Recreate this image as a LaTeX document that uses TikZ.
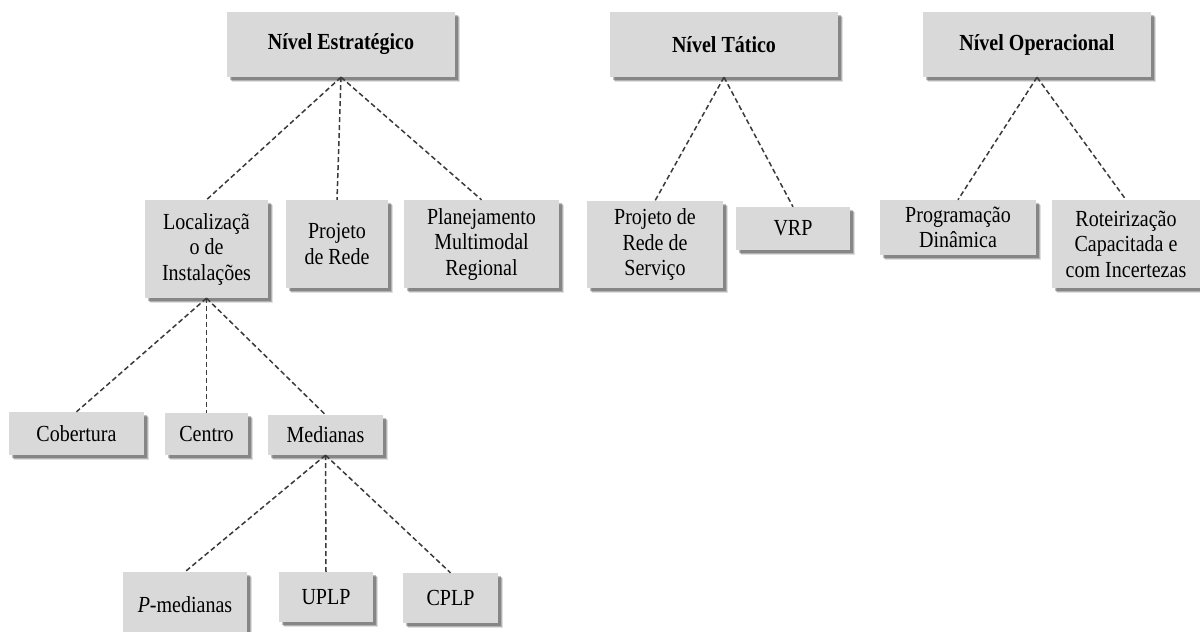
\documentclass[tikz,border=0pt]{standalone}
\usepackage{fontspec}
\setmainfont{Liberation Serif}[FakeStretch=0.87]
\usetikzlibrary{shadows}
\definecolor{boxgray}{HTML}{D9D9D9}
\definecolor{linkgray}{HTML}{3A3A3A}
\begin{document}
\begin{tikzpicture}[x=1pt,y=-1pt,
  box/.style={fill=boxgray, draw=none, inner sep=0pt, align=center,
    font=\fontsize{23}{25.5}\selectfont,
    general shadow={shadow xshift=4.5pt, shadow yshift=-4.5pt, fill=black, opacity=0.12},
    general shadow={shadow xshift=3.5pt, shadow yshift=-3.5pt, fill=black, opacity=0.2},
    general shadow={shadow xshift=2.5pt, shadow yshift=-2.5pt, fill=black, opacity=0.25}},
  head/.style={box, font=\bfseries\fontsize{23}{25.5}\selectfont},
  link/.style={draw=linkgray, line width=1.5pt, dash pattern=on 5pt off 3pt}]
\clip (0,0) rectangle (1200,632);
\fill[white] (0,0) rectangle (1200,632);

% planning levels
\node[head, minimum width=228pt, minimum height=65pt] (est) at (341,44.5) {Nível Estratégico};
\node[head, minimum width=228pt, minimum height=65pt] (tat) at (724,44.5) {Nível Tático};
\node[head, minimum width=228pt, minimum height=65pt] (ope) at (1037,44.5) {Nível Operacional};

% strategic problems
\node[box, minimum width=123pt, minimum height=98pt] (loc) at (206.5,249) {Localizaçã\\o de\\Instalações};
\node[box, minimum width=102pt, minimum height=88pt] (prr) at (337,244) {Projeto\\de Rede};
\node[box, minimum width=155pt, minimum height=88pt] (pmr) at (481.5,244) {Planejamento\\Multimodal\\Regional};

% tactical problems
\node[box, minimum width=136pt, minimum height=87pt] (prs) at (655,244.5) {Projeto de\\Rede de\\Serviço};
\node[box, minimum width=114pt, minimum height=43pt] (vrp) at (793,228.5) {VRP};

% operational problems
\node[box, minimum width=156pt, minimum height=55pt] (pdi) at (958,227.5) {Programação\\Dinâmica};
\node[box, minimum width=148pt, minimum height=88pt] (rot) at (1126,244) {Roteirização\\Capacitada e\\com Incertezas};

% facility location models
\node[box, minimum width=135pt, minimum height=43pt] (cob) at (76.5,433.5) {Cobertura};
\node[box, minimum width=83pt, minimum height=42pt] (cen) at (206.5,434) {Centro};
\node[box, minimum width=115pt, minimum height=40pt] (med) at (325.5,435) {Medianas};

% median models
\node[box, minimum width=124pt, minimum height=66pt] (pme) at (185,605) {\textit{P}-medianas};
\node[box, minimum width=94pt, minimum height=50pt] (upl) at (326,597) {UPLP};
\node[box, minimum width=95pt, minimum height=50pt] (cpl) at (450.5,598) {CPLP};

% connectors
\foreach \p/\c in {est/loc, est/prr, est/pmr, tat/prs, tat/vrp, ope/pdi, ope/rot,
                   loc/cob, loc/cen, loc/med, med/pme, med/upl, med/cpl}
  \draw[link] (\p.south) -- (\c.north);
\end{tikzpicture}
\end{document}
